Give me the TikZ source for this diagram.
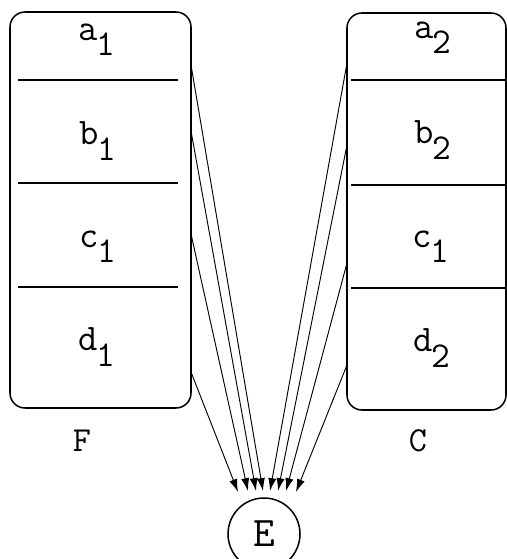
\documentclass[tikz,border=0pt]{standalone}
\usetikzlibrary{arrows.meta}
\newcommand{\cellname}[2]{{\fontsize{32}{34}\selectfont #1}\kern-1pt\raisebox{-13pt}{\fontsize{31}{33}\selectfont #2}}
\begin{document}
\begin{tikzpicture}[x=0.03cm,y=-0.03cm,
  box/.style={draw,line width=1.3pt,rounded corners=0.45cm},
  divline/.style={line width=1.7pt},
  conn/.style={line width=0.8pt,-{Latex[length=11pt,width=7pt]}},
  lab/.style={font=\ttfamily,inner sep=0pt},
  big/.style={font=\ttfamily\fontsize{30}{32}\selectfont,inner sep=0pt}]
\useasboundingbox (0,0) rectangle (507,559);
% left box F
\draw[box] (10,12) rectangle (191,408);
\draw[divline] (18,80) -- (178,80);
\draw[divline] (18,183) -- (178,183);
\draw[divline] (18,287) -- (178,287);
\node[lab] (a1) at (97,40) {\cellname{a}{1}};
\node[lab] (b1) at (98,141) {\cellname{b}{1}};
\node[lab] (c1) at (98,247) {\cellname{c}{1}};
\node[lab] (d1) at (97,347) {\cellname{d}{1}};
\node[big] (F) at (82,441) {F};
% right box C
\draw[box] (347,13) rectangle (506,410);
\draw[divline] (351,80) -- (507,80);
\draw[divline] (351,185) -- (507,185);
\draw[divline] (351,288) -- (507,288);
\node[lab] (a2) at (433,38) {\cellname{a}{2}};
\node[lab] (b2) at (433,140) {\cellname{b}{2}};
\node[lab] (c1r) at (431,247) {\cellname{c}{1}};
\node[lab] (d2) at (432,348) {\cellname{d}{2}};
\node[big] (C) at (418,441) {C};
% E
\node[draw,circle,line width=1.3pt,minimum size=2.16cm,inner sep=0pt,
  font=\ttfamily\fontsize{36}{38}\selectfont] (E) at (264,534) {E};
% start coordinates
\coordinate (l1) at (191,65);
\coordinate (l2) at (191,131);
\coordinate (l3) at (191,234);
\coordinate (l4) at (191,372);
\coordinate (r1) at (347,63);
\coordinate (r2) at (347,145);
\coordinate (r3) at (347,263);
\coordinate (r4) at (347,365);
% tips
\coordinate (t1) at (238,492);
\coordinate (t2) at (248,491);
\coordinate (t3) at (256,491);
\coordinate (t4) at (263,491);
\coordinate (t5) at (270,491);
\coordinate (t6) at (278,491);
\coordinate (t7) at (286,491);
\coordinate (t8) at (296,492);
\draw[conn] (l4) -- (t1);
\draw[conn] (l3) -- (t2);
\draw[conn] (l2) -- (t3);
\draw[conn] (l1) -- (t4);
\draw[conn] (r1) -- (t5);
\draw[conn] (r2) -- (t6);
\draw[conn] (r3) -- (t7);
\draw[conn] (r4) -- (t8);
\end{tikzpicture}
\end{document}
